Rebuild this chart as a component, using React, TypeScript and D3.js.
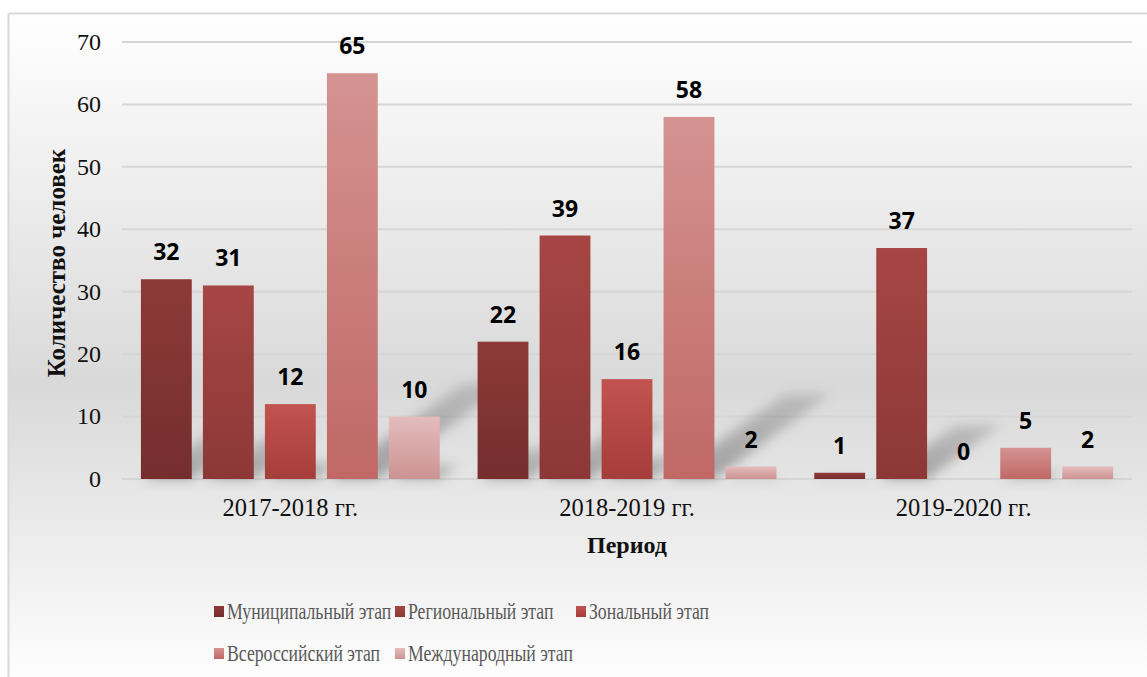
import React from "react";
import * as d3 from "d3";

const categories = ["2017-2018 гг.", "2018-2019 гг.", "2019-2020 гг."];
const seriesNames = [
  "Муниципальный этап",
  "Региональный этап",
  "Зональный этап",
  "Всероссийский этап",
  "Международный этап",
];
const municipal = [32, 22, 1];
const regional = [31, 39, 37];
const zonal = [12, 16, 0];
const allRussian = [65, 58, 5];
const international = [10, 2, 2];
const seriesValues = [municipal, regional, zonal, allRussian, international];
const yTicks = [0, 10, 20, 30, 40, 50, 60, 70];

const colorsTop = ["#8c3a39", "#a64644", "#c25350", "#d49391", "#e3bcbc"];
const colorsBottom = ["#752d2d", "#8c3837", "#a53d3b", "#c06866", "#cd9393"];

const W = 1147;
const H = 677;
const plotLeft = 122;
const plotRight = 1132;
const plotTop = 42;
const plotBottom = 479;

const legendPos = [
  [214, 606],
  [395, 606],
  [576, 606],
  [214, 648],
  [395, 648],
];
const legendScaleX = 0.77;

const serif = "'Liberation Serif', 'Times New Roman', serif";

export default function App() {
  const x0 = d3.scaleBand<string>().domain(categories).range([plotLeft, plotRight]).padding(0);
  const x1 = d3
    .scaleBand<string>()
    .domain(seriesNames)
    .range([0, x0.bandwidth()])
    .paddingInner(0.18)
    .paddingOuter(0.305);
  const y = d3.scaleLinear().domain([0, 70]).range([plotBottom, plotTop]);

  const bars: any[] = [];
  seriesNames.forEach((s, si) => {
    categories.forEach((c, ci) => {
      const v = seriesValues[si][ci];
      const bx = (x0(c) ?? 0) + (x1(s) ?? 0);
      bars.push({ si, ci, v, x: bx, w: x1.bandwidth(), yTop: y(v), h: y(0) - y(v) });
    });
  });

  const shadowPath = (b: any) => {
    const s = 0.32 * b.h;
    const r = 0.235 * b.h;
    const p = d3.path();
    p.moveTo(b.x + 2, plotBottom);
    p.lineTo(b.x + b.w, plotBottom);
    p.lineTo(b.x + b.w + s, plotBottom - r);
    p.lineTo(b.x + s + 6, plotBottom - r);
    p.closePath();
    return p.toString();
  };

  return (
    <svg
      width={W}
      height={H}
      style={{ position: "absolute", left: 0, top: 0, display: "block" }}
    >
      <defs>
        <linearGradient id="bg" x1="0" y1="0" x2="0" y2="1">
          <stop offset="0" stopColor="#ffffff" />
          <stop offset="0.55" stopColor="#d9d9d9" />
          <stop offset="1" stopColor="#ffffff" />
        </linearGradient>
        {seriesNames.map((s, i) => (
          <linearGradient key={i} id={`g${i}`} x1="0" y1="0" x2="0" y2="1">
            <stop offset="0" stopColor={colorsTop[i]} />
            <stop offset="1" stopColor={colorsBottom[i]} />
          </linearGradient>
        ))}
        <linearGradient id="sh" x1="0" y1="1" x2="0" y2="0">
          <stop offset="0" stopColor="#000" stopOpacity={0.3} />
          <stop offset="1" stopColor="#000" stopOpacity={0.14} />
        </linearGradient>
        <filter id="blur" x="-50%" y="-50%" width="200%" height="200%">
          <feGaussianBlur stdDeviation="6" />
        </filter>
      </defs>
      <rect x={8} y={14} width={W} height={H} fill="url(#bg)" />
      <line x1={8.5} y1={13.5} x2={W} y2={13.5} stroke="#d9d9d9" strokeWidth={2} />
      <line x1={8.5} y1={13.5} x2={8.5} y2={H} stroke="#d9d9d9" strokeWidth={2} />

      {yTicks.map((t) => (
        <g key={t}>
          <line
            x1={plotLeft}
            x2={plotRight}
            y1={y(t)}
            y2={y(t)}
            stroke="#d6d6d6"
            strokeWidth={2}
          />
          <text
            x={101}
            y={y(t)}
            dy="0.33em"
            textAnchor="end"
            fontFamily={serif}
            fontSize={24}
            fill="#111"
          >
            {t}
          </text>
        </g>
      ))}

      <g filter="url(#blur)">
        {bars
          .filter((b) => b.h > 0)
          .map((b, i) => (
            <path key={i} d={shadowPath(b)} fill="url(#sh)" />
          ))}
      </g>

      {bars.map((b, i) => (
        <rect key={i} x={b.x} y={b.yTop} width={b.w} height={b.h} fill={`url(#g${b.si})`} />
      ))}

      {bars.map((b, i) => (
        <text
          key={i}
          x={b.x + b.w / 2}
          y={b.yTop - 19}
          textAnchor="middle"
          fontFamily="'Open Sans', sans-serif"
          fontWeight={700}
          fontSize={23}
          fill="#000"
        >
          {b.v}
        </text>
      ))}

      {categories.map((c) => (
        <text
          key={c}
          x={(x0(c) ?? 0) + x0.bandwidth() / 2}
          y={516}
          textAnchor="middle"
          fontFamily={serif}
          fontSize={24.5}
          fill="#111"
        >
          {c}
        </text>
      ))}

      <text
        x={627}
        y={553}
        textAnchor="middle"
        fontFamily={serif}
        fontWeight={700}
        fontSize={24}
        fill="#111"
      >
        Период
      </text>
      <text
        transform={`translate(65,263) rotate(-90)`}
        textAnchor="middle"
        fontFamily={serif}
        fontWeight={700}
        fontSize={25}
        fill="#111"
      >
        Количество человек
      </text>

      {seriesNames.map((s, i) => (
        <g key={s}>
          <rect
            x={legendPos[i][0]}
            y={legendPos[i][1]}
            width={10}
            height={11}
            fill={`url(#g${i})`}
          />
          <text
            transform={`translate(${legendPos[i][0] + 13},${legendPos[i][1] + 13}) scale(${legendScaleX},1)`}
            fontFamily={serif}
            fontSize={23}
            fill="#595959"
          >
            {s}
          </text>
        </g>
      ))}
    </svg>
  );
}
